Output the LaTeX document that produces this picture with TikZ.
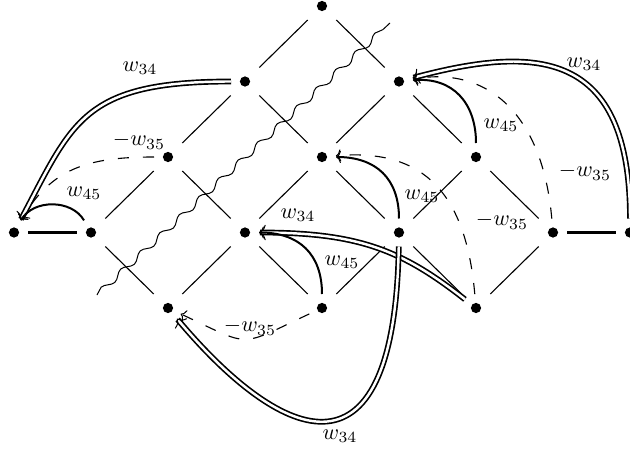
\documentclass[tikz,border=0pt]{standalone}
\usetikzlibrary{arrows.meta,decorations.pathmorphing}
\begin{document}
\begin{tikzpicture}[x=0.45pt,y=-0.45pt,
  dot/.style={circle,fill,minimum size=4.6pt,inner sep=0pt,outer sep=4pt},
  lat/.style={line width=0.5pt,shorten <=2.7pt,shorten >=2.7pt},
  bar/.style={line width=1pt},
  tip/.style={-{To[length=2.2pt,width=5.4pt,line width=0.45pt]}},
  wone/.style={line width=0.9pt,tip},
  wdbl/.style={double,line width=0.75pt,double distance=1.1pt,
    -{To[length=3pt,width=7pt,line width=0.45pt]}},
  wneg/.style={line width=0.5pt,dash pattern=on 5pt off 6.3pt,tip},
  lab/.style={inner sep=0pt},
  cut/.style={line width=0.45pt,decorate,
    decoration={snake,segment length=12pt,amplitude=1.3pt}},
]
\useasboundingbox (0,0) rectangle (630,451);

% lattice points: column i, row j
\foreach \i/\j in {4/0,3/1,5/1,2/2,4/2,6/2,0/3,1/3,3/3,5/3,7/3,8/3,2/4,4/4,6/4}
  \node[dot] (n\i\j) at ({14+77*\i},{6+75.5*\j}) {};

% diagonal lattice edges
\foreach \a/\b in {40/31,40/51,31/22,31/42,51/42,51/62,22/13,22/33,42/33,42/53,
                   62/53,62/73,13/24,33/24,33/44,53/44,53/64,73/64}
  \draw[lat] (n\a) -- (n\b);

% horizontal edges
\draw[bar] (n03) -- (n13);
\draw[bar] (n73) -- (n83);

% wavy cut
\coordinate (cutA) at (97,295);
\coordinate (cutB) at (390,23);
\draw[cut] (cutA) -- (cutB);

% w_34 (double arrows)
\draw[wdbl] (n31) to[out=180,in=62,out distance=67pt,in distance=50pt] (n03);
\draw[wdbl] (n83) to[out=90,in=15,out distance=76pt,in distance=58pt] (n51);
\draw[wdbl] (n64) to[out=142,in=0,out distance=36pt,in distance=45pt] (n33);
\draw[wdbl] (n53) to[out=269,in=310,out distance=114pt,in distance=69pt] (n24);

% w_45 (single arrows)
\draw[wone] (n13) to[out=120,in=60] (n03);
\draw[wone] (n62) to[out=90,in=5,out distance=18pt,in distance=18pt] (n51);
\draw[wone] (n53) to[out=90,in=0,out distance=18pt,in distance=18pt] (n42);
\draw[wone] (n44) to[out=90,in=0,out distance=18pt,in distance=18pt] (n33);

% -w_35 (dashed arrows)
\draw[wneg] (n22) to[out=180,in=60,out distance=30pt,in distance=27pt] (n03);
\draw[wneg] (n73) to[out=95,in=10,out distance=45pt,in distance=36pt] (n51);
\draw[wneg] (n64) to[out=95,in=5,out distance=45pt,in distance=40pt] (n42);
\draw[wneg] (n44) to[out=205,in=335,out distance=36pt,in distance=36pt] (n24);

% labels
\node[lab] (lA) at (140,68)  {$w_{34}$};
\node[lab] (lD) at (584,64)  {$w_{34}$};
\node[lab] (lJ) at (298,215) {$w_{34}$};
\node[lab] (lK) at (340,436) {$w_{34}$};
\node[lab] (lB) at (84,193)  {$w_{45}$};
\node[lab] (lE) at (501,125) {$w_{45}$};
\node[lab] (lG) at (422,196) {$w_{45}$};
\node[lab] (lI) at (342,262) {$w_{45}$};
\node[lab] (lC) at (139,141) {$-w_{35}$};
\node[lab] (lF) at (585,172) {$-w_{35}$};
\node[lab] (lH) at (502,221) {$-w_{35}$};
\node[lab] (lL) at (250,327) {$-w_{35}$};
\end{tikzpicture}
\end{document}
